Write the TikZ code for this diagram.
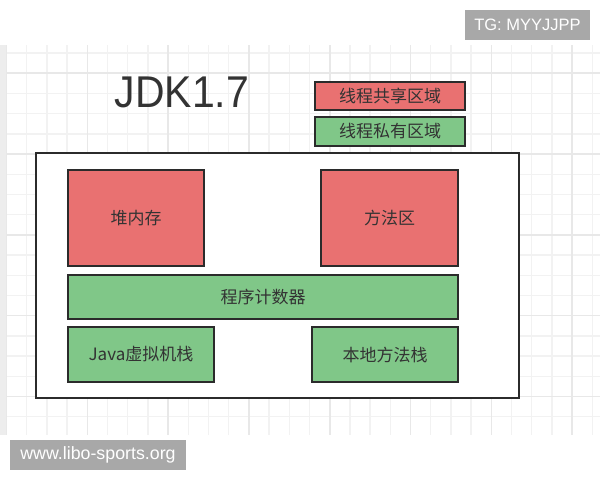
\documentclass[tikz,border=0pt]{standalone}
\usepackage{fontspec}
\setmainfont{Noto Sans CJK SC}
\newfontfamily\wmfont{Liberation Sans}
\usetikzlibrary{positioning}
\definecolor{shared}{HTML}{E97171}
\definecolor{private}{HTML}{80C788}
\definecolor{edge}{HTML}{2B2B2B}
\definecolor{txt}{HTML}{333333}
\definecolor{gridmin}{HTML}{F2F2F2}
\definecolor{gridmaj}{HTML}{E8E8E8}
\definecolor{badgebg}{HTML}{A8A8A8}

\begin{document}
\begin{tikzpicture}[
  x=1pt, y=-1pt,
  sharedbox/.style={draw=edge, line width=2.4pt, fill=shared, inner sep=0pt, text=txt, font=\fontsize{17}{17}\selectfont},
  privatebox/.style={sharedbox, fill=private},
  badge/.style={fill=badgebg, text=white, inner sep=0pt},
]
\useasboundingbox (0,0) rectangle (600,480);
\fill[white] (0,0) rectangle (600,480);

% background grid
\fill[black!7] (0,45) rectangle (6,435);
\foreach \i in {0,...,29}
  \draw[gridmin, line width=1.4pt] ({6.5+20.2*\i},45) -- ({6.5+20.2*\i},435);
\foreach \j in {0,...,18}
  \draw[gridmin, line width=1.4pt] (6,{53+20.2*\j}) -- (600,{53+20.2*\j});
\foreach \i in {0,...,7}
  \draw[gridmaj, line width=1.6pt] ({6.5+80.8*\i},45) -- ({6.5+80.8*\i},435);
\foreach \j in {0,...,4}
  \draw[gridmaj, line width=1.6pt] (6,{73.2+80.8*\j}) -- (600,{73.2+80.8*\j});

% title and legend
\node[anchor=base, text=txt, font=\wmfont\fontsize{44.5}{44.5}\selectfont, inner sep=0pt] (title) at (182,107) {\scalebox{0.92}[1]{JDK1.7}};
\node[sharedbox, minimum width=150, minimum height=28] (legShared) at (390,96) {线程共享区域};
\node[privatebox, minimum width=150, minimum height=29] (legPrivate) at (390,131.5) {线程私有区域};

% runtime data areas
\node[draw=edge, line width=2.4pt, fill=white, minimum width=483, minimum height=245] (jvm) at (277.5,275.5) {};
\node[sharedbox, minimum width=136, minimum height=96] (heap) at (136,218) {堆内存};
\node[sharedbox, minimum width=137, minimum height=96] (method) at (389.5,218) {方法区};
\node[privatebox, minimum width=390, minimum height=44] (pc) at (263,297) {程序计数器};
\node[privatebox, minimum width=146, minimum height=55] (vmstack) at (141,354.5) {Java虚拟机栈};
\node[privatebox, minimum width=146, minimum height=55] (native) at (385,354.5) {本地方法栈};

% watermarks
\node[badge, font=\wmfont\fontsize{16.5}{16.5}\selectfont, minimum width=125, minimum height=30] (tg) at (527.5,25) {TG: MYYJJPP};
\node[badge, font=\wmfont\fontsize{17.8}{17.8}\selectfont, minimum width=176, minimum height=30] (site) at (98,455) {www.libo-sports.org};

\end{tikzpicture}
\end{document}
